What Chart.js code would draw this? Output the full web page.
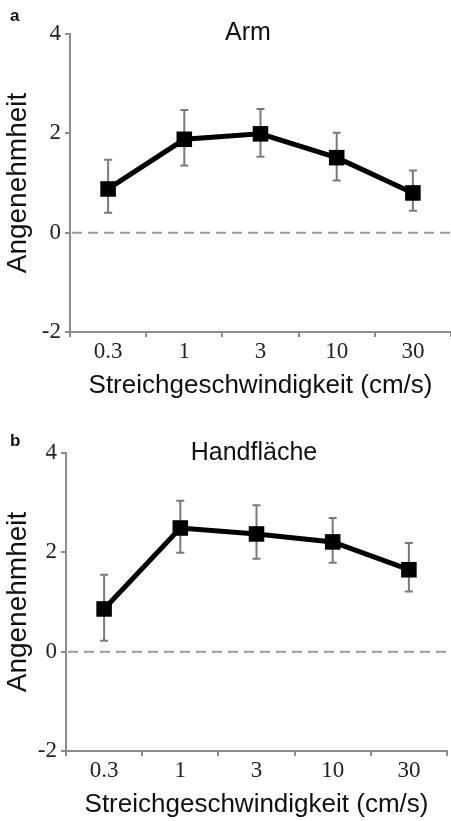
<!DOCTYPE html>
<html><head><meta charset="utf-8">
<script src="https://cdn.jsdelivr.net/npm/chart.js@4.4.0/dist/chart.umd.min.js"></script>
<style>
html,body{margin:0;padding:0;background:#fff;}
body{width:451px;height:821px;overflow:hidden;position:relative;}
.panel{position:absolute;left:0;width:451px;}
#pa{top:0;height:410px;}
#pb{top:410px;height:411px;}
</style></head><body>
<div class="panel" id="pa"><canvas id="ca" width="451" height="410"></canvas></div>
<div class="panel" id="pb"><canvas id="cb" width="451" height="411"></canvas></div>
<script>
// ---- data ----
const speeds = ['0.3', '1', '3', '10', '30'];
const yTicks = [-2, 0, 2, 4];
const armMean  = [0.88, 1.88, 1.99, 1.51, 0.80];
const armUpper = [1.47, 2.47, 2.49, 2.01, 1.25];
const armLower = [0.40, 1.35, 1.53, 1.05, 0.44];
const palmMean  = [0.86, 2.49, 2.37, 2.21, 1.65];
const palmUpper = [1.55, 3.04, 2.95, 2.69, 2.19];
const palmLower = [0.22, 1.99, 1.87, 1.79, 1.21];
const panelTitles = ['Arm', 'Handfläche'];
const panelLetters = ['a', 'b'];
const xTitle = 'Streichgeschwindigkeit (cm/s)';
const yTitle = 'Angenehmheit';

const AXIS = '#8c8c8c';
const SANS = '"Liberation Sans", Arial, sans-serif';
const SERIF = '"Liberation Serif", "Times New Roman", serif';

const decorPlugin = {
  id: 'decor',
  beforeDatasetsDraw(chart, args, opts) {
    const {ctx, chartArea, scales} = chart;
    const y = scales.y, x = scales.x;
    // zero reference line
    const y0 = y.getPixelForValue(0);
    ctx.save();
    ctx.strokeStyle = '#9a9a9a';
    ctx.lineWidth = 2;
    ctx.setLineDash([10, 6]);
    ctx.beginPath();
    ctx.moveTo(chartArea.left + 2, y0);
    ctx.lineTo(chartArea.right, y0);
    ctx.stroke();
    ctx.setLineDash([]);
    // error bars
    ctx.strokeStyle = '#7a7a7a';
    ctx.lineWidth = 2;
    opts.upper.forEach((u, i) => {
      const px = x.getPixelForValue(i);
      const pu = y.getPixelForValue(u);
      const pl = y.getPixelForValue(opts.lower[i]);
      ctx.beginPath();
      ctx.moveTo(px, pu); ctx.lineTo(px, pl);
      ctx.moveTo(px - 4, pu); ctx.lineTo(px + 4, pu);
      ctx.moveTo(px - 4, pl); ctx.lineTo(px + 4, pl);
      ctx.stroke();
    });
    ctx.restore();
  },
  afterDraw(chart, args, opts) {
    const {ctx} = chart;
    ctx.save();
    ctx.fillStyle = '#111';
    ctx.font = '25px ' + SANS;
    ctx.textAlign = 'center';
    ctx.textBaseline = 'middle';
    ctx.fillText(opts.title, opts.tx, opts.ty);
    ctx.font = 'bold 17px ' + SANS;
    ctx.textAlign = 'left';
    ctx.textBaseline = 'alphabetic';
    ctx.fillText(opts.letter, 10, opts.ly);
    ctx.restore();
  }
};

function makeChart(id, mean, upper, lower, title, letter, c) {
  return new Chart(document.getElementById(id), {
    type: 'line',
    data: {
      labels: speeds,
      datasets: [{
        data: mean,
        borderColor: '#000',
        backgroundColor: '#000',
        borderWidth: 5,
        pointStyle: 'rect',
        pointRadius: 11,
        pointHoverRadius: 11,
        pointBorderWidth: 0,
        tension: 0
      }]
    },
    options: {
      responsive: false,
      animation: false,
      devicePixelRatio: 1,
      layout: {autoPadding: false, padding: {top: c.top, right: c.right, left: 0, bottom: 0}},
      plugins: {
        legend: {display: false},
        tooltip: {enabled: false},
        decor: {upper: upper, lower: lower, title: title, letter: letter, tx: c.tx, ty: c.ty, ly: c.ly}
      },
      scales: {
        x: {
          type: 'category',
          offset: true,
          grid: {offset: true, drawOnChartArea: false, drawTicks: true, tickLength: 5, color: AXIS, lineWidth: 2},
          border: {display: true, color: AXIS, width: 2},
          ticks: {color: '#222', font: {family: SERIF, size: 23}, padding: 1, maxRotation: 0},
          title: {display: true, text: xTitle, color: '#111', font: {family: SANS, size: 26}, padding: {top: 0, bottom: c.xtp}},
          afterFit(s) { s.height = c.xh; }
        },
        y: {
          min: -2, max: 4,
          afterBuildTicks(s) { s.ticks = yTicks.map(v => ({value: v})); },
          grid: {drawOnChartArea: false, drawTicks: true, tickLength: 5, color: AXIS, lineWidth: 2},
          border: {display: true, color: AXIS, width: 2},
          ticks: {color: '#222', font: {family: SERIF, size: 23}, padding: 4},
          title: {display: true, text: yTitle, color: '#111', font: {family: SANS, size: 28}, padding: {top: 1, bottom: 0}},
          afterFit(s) { s.width = c.yw; }
        }
      }
    },
    plugins: [decorPlugin]
  });
}

makeChart('ca', armMean, armUpper, armLower, panelTitles[0], panelLetters[0],
  {top: 34, right: 0, xh: 78, xtp: 9, yw: 70, tx: 248, ty: 33, ly: 21});
makeChart('cb', palmMean, palmUpper, palmLower, panelTitles[1], panelLetters[1],
  {top: 43, right: 4, xh: 70, xtp: 1, yw: 66, tx: 254, ty: 43, ly: 36});
</script>
</body></html>
